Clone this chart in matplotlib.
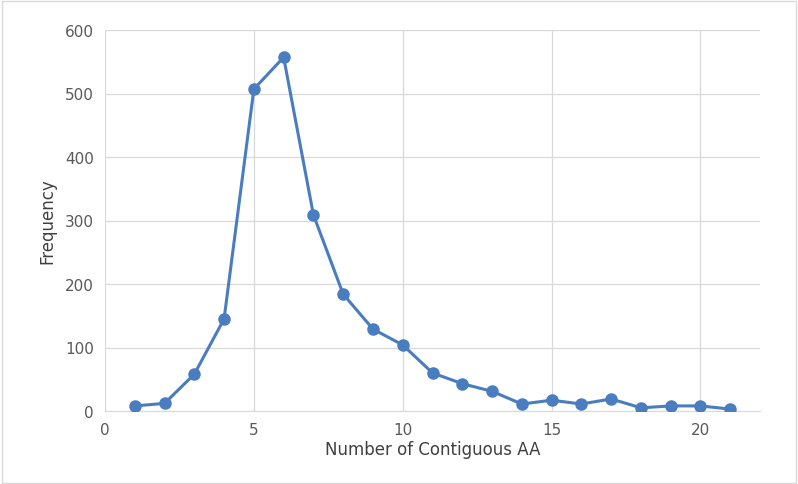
import matplotlib.pyplot as plt
from matplotlib.patches import Rectangle

# contiguous AA length vs frequency
lengths = list(range(1, 22))
freq = [8, 12, 58, 145, 507, 557, 309, 184, 129, 104, 60, 43, 31, 11, 17, 11, 19, 5, 8, 8, 3]

fig = plt.figure(figsize=(7.98, 4.85), dpi=100)
ax = fig.add_axes([105 / 798, 1 - 412 / 485, 655 / 798, 381 / 485])

ax.plot(lengths, freq, color="#4A7DBF", lw=2.2, marker="o", ms=8, zorder=3)

ax.set_xlim(0, 22)
ax.set_ylim(0, 600)
ax.set_xticks([0, 5, 10, 15, 20])
ax.set_yticks(range(0, 601, 100))
ax.grid(True, color="#D9D9D9", lw=0.9)
ax.set_axisbelow(True)
for s in ["top", "right", "left"]:
    ax.spines[s].set_visible(False)
ax.spines["bottom"].set_color("#D9D9D9")
ax.tick_params(length=0, labelsize=11, colors="#595959", pad=8)
ax.set_xlabel("Number of Contiguous AA", fontsize=12, color="#404040", labelpad=2)
ax.set_ylabel("Frequency", fontsize=12, color="#404040", labelpad=6)

fig.patches.append(Rectangle((0.002, 0.003), 0.995, 0.993, transform=fig.transFigure,
                             fill=False, edgecolor="#D9D9D9", lw=1))
fig.savefig("out.png", dpi=100)
